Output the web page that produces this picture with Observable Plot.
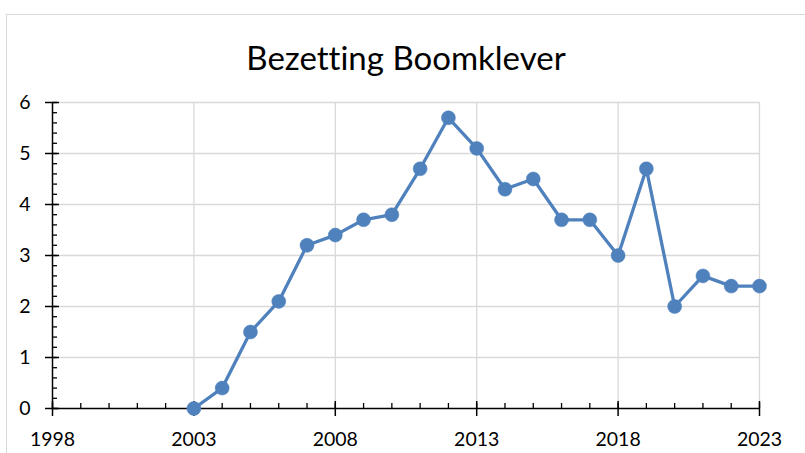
<!DOCTYPE html>
<html>
<head>
<meta charset="utf-8">
<script src="https://cdn.jsdelivr.net/npm/d3@7"></script>
<script src="https://cdn.jsdelivr.net/npm/@observablehq/plot@0.6"></script>
<style>
  html, body { margin: 0; padding: 0; background: #fff; overflow: hidden; }
  #wrap { position: relative; width: 805px; height: 453px; }
  #border { position: absolute; left: 6px; top: 14px; width: 900px; height: 600px; border: 1px solid #d9d9d9; box-sizing: border-box; }
  #chart { position: absolute; left: 0; top: 0; }
  svg text { font-variant-ligatures: none; font-feature-settings: "liga" 0, "clig" 0; }
</style>
</head>
<body>
<div id="wrap"><div id="border"></div><div id="chart"></div></div>
<script>
const title = "Bezetting Boomklever";
const years = [2003, 2004, 2005, 2006, 2007, 2008, 2009, 2010, 2011, 2012, 2013, 2014, 2015, 2016, 2017, 2018, 2019, 2020, 2021, 2022, 2023];
const values = [0, 0.4, 1.5, 2.1, 3.2, 3.4, 3.7, 3.8, 4.7, 5.7, 5.1, 4.3, 4.5, 3.7, 3.7, 3.0, 4.7, 2.0, 2.6, 2.4, 2.4];
const xTicks = [1998, 2003, 2008, 2013, 2018, 2023];
const yTicks = [0, 1, 2, 3, 4, 5, 6];

const data = years.map((y, i) => ({year: y, value: values[i]}));
const minorX = d3.range(1998, 2024, 1);
const minorY = d3.range(0, 6.001, 0.2);
const font = "Lato, 'Open Sans', sans-serif";
const blue = "#4f81bd";
const grid = "#d9d9d9";

const plot = Plot.plot({
  width: 805,
  height: 453,
  marginLeft: 52,
  marginRight: 46,
  marginTop: 102,
  marginBottom: 45,
  style: {fontFamily: font, background: "transparent"},
  x: {domain: [1998, 2023], axis: null},
  y: {domain: [0, 6], axis: null},
  marks: [
    Plot.ruleY(yTicks.filter(d => d > 0), {stroke: grid, strokeWidth: 1.3}),
    Plot.ruleX(xTicks.filter(d => d > 1998), {y1: 0, y2: 6, stroke: grid, strokeWidth: 1.3}),
    Plot.ruleY([0], {x1: 1998, x2: 2023, stroke: "#000", strokeWidth: 1.5}),
    Plot.ruleX([1998], {y1: 0, y2: 6, stroke: "#000", strokeWidth: 1.5}),
    Plot.ruleX(minorX, {x: d => d, y1: 0, y2: 0, insetTop: -5, insetBottom: 0, stroke: "#000", strokeWidth: 1.3}),
    Plot.ruleX(xTicks, {x: d => d, y1: 0, y2: 0, insetTop: -7, insetBottom: -8, stroke: "#000", strokeWidth: 1.5}),
    Plot.ruleY(minorY, {y: d => d, x1: 1998, x2: 1998, insetLeft: 0, insetRight: -5, stroke: "#000", strokeWidth: 1.3}),
    Plot.ruleY(yTicks, {y: d => d, x1: 1998, x2: 1998, insetLeft: -7, insetRight: -7, stroke: "#000", strokeWidth: 1.5}),
    Plot.text(xTicks, {x: d => d, y: 0, dy: 31, text: d => String(d), fontSize: 19.5, fill: "#000"}),
    Plot.text(yTicks, {x: 1998, y: d => d, dx: -22, text: d => String(d), textAnchor: "end", fontSize: 19.5, fill: "#000"}),
    Plot.line(data, {x: "year", y: "value", stroke: blue, strokeWidth: 3.3, strokeLinejoin: "round"}),
    Plot.dot(data, {x: "year", y: "value", r: 7, fill: blue, stroke: blue, strokeWidth: 0.5}),
    Plot.text([title], {frameAnchor: "top", dy: -56, text: d => d, fontSize: 33, fill: "#000"})
  ]
});
document.getElementById("chart").appendChild(plot);
</script>
</body>
</html>
